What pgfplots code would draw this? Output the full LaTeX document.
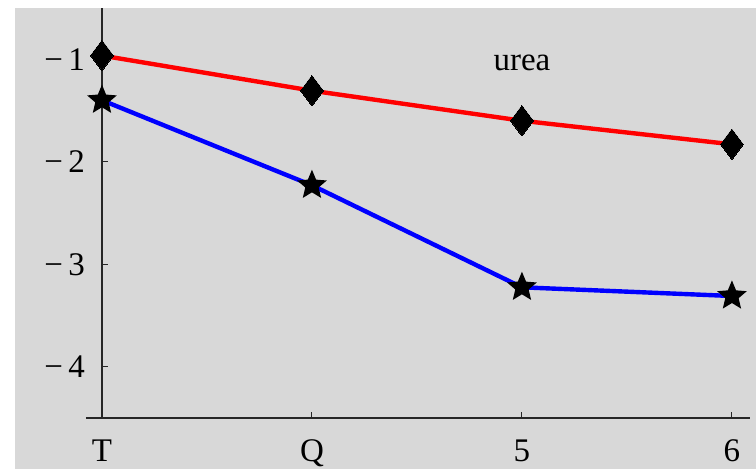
\documentclass[border=0pt]{standalone}
\usepackage{fontspec}
\setmainfont{Liberation Serif}
\usepackage{pgfplots}
\pgfplotsset{compat=1.18}
\definecolor{bg}{RGB}{216,216,216}
\pgfdeclareplotmark{fstar}{%
  \pgfpathmoveto{\pgfpointpolar{90}{\pgfplotmarksize}}%
  \pgfpathlineto{\pgfpointpolar{126}{0.45\pgfplotmarksize}}%
  \pgfpathlineto{\pgfpointpolar{162}{\pgfplotmarksize}}%
  \pgfpathlineto{\pgfpointpolar{198}{0.45\pgfplotmarksize}}%
  \pgfpathlineto{\pgfpointpolar{234}{\pgfplotmarksize}}%
  \pgfpathlineto{\pgfpointpolar{270}{0.45\pgfplotmarksize}}%
  \pgfpathlineto{\pgfpointpolar{306}{\pgfplotmarksize}}%
  \pgfpathlineto{\pgfpointpolar{342}{0.45\pgfplotmarksize}}%
  \pgfpathlineto{\pgfpointpolar{18}{\pgfplotmarksize}}%
  \pgfpathlineto{\pgfpointpolar{54}{0.45\pgfplotmarksize}}%
  \pgfpathclose\pgfusepathqfill}
\begin{document}
\begin{tikzpicture}
\fill[bg] (-35.5pt,-25.5pt) rectangle (335pt,205pt);
\useasboundingbox (-43pt,-25.5pt) rectangle (335pt,209pt);
\begin{axis}[at={(0,0)}, anchor=south west, scale only axis,
  width=332pt, height=205pt,
  xmin=-0.076, xmax=3.086, ymin=-4.5, ymax=-0.5,
  axis x line=bottom, axis y line=middle,
  axis line style={-, line width=0.6pt, black!85},
  xtick={0,1,2,3}, xticklabels={T,Q,5,6},
  ytick={-4,-3,-2,-1}, yticklabels={−\,4,−\,3,−\,2,−\,1},
  tick align=inside, major tick length=3pt,
  tick style={black!85, line width=0.5pt},
  tick label style={font=\fontsize{16.5}{20}\selectfont},
  xticklabel style={yshift=-7.5pt},
  yticklabel style={xshift=-5pt},
  clip=false]
\addplot[red, line width=2.2pt, mark=diamond*, mark size=7.6pt,
  mark options={black, fill=black, line width=0pt}]
  coordinates {(0,-0.964) (1,-1.307) (2,-1.60) (3,-1.83)};
\addplot[blue, line width=2.2pt, mark=fstar, mark size=7.8pt,
  mark options={black, fill=black}]
  coordinates {(0,-1.40) (1,-2.23) (2,-3.225) (3,-3.31)};
\node[anchor=base, font=\fontsize{16.5}{20}\selectfont] at (axis cs:2,-1.112) {urea};
\end{axis}
\end{tikzpicture}
\end{document}
